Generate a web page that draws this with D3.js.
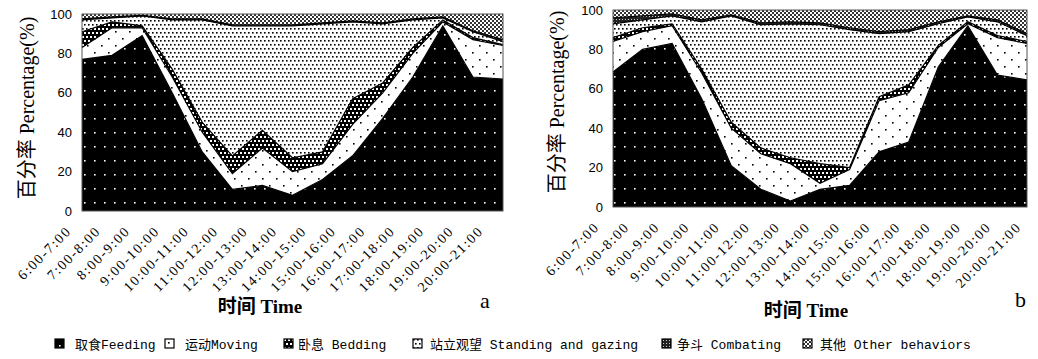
<!DOCTYPE html>
<html>
<head>
<meta charset="utf-8">
<script src="https://cdn.jsdelivr.net/npm/d3@7"></script>
<style>
  body { margin: 0; background: #fff; }
  svg { display: block; }
  .tick-y { font: 13px "Liberation Sans", Arial, sans-serif; }
  .tick-x { font: 14px "Liberation Serif", "Times New Roman", serif; letter-spacing: 1.6px; }
  .title { font-family: "Liberation Serif", "Noto Sans CJK SC", serif; }
  .legend { font: 13px "Liberation Mono", "Noto Sans CJK SC", monospace; }
</style>
</head>
<body>
<svg id="chart" width="1038" height="359"></svg>
<script>
const categories = ["6:00-7:00", "7:00-8:00", "8:00-9:00", "9:00-10:00", "10:00-11:00",
  "11:00-12:00", "12:00-13:00", "13:00-14:00", "14:00-15:00", "15:00-16:00",
  "16:00-17:00", "17:00-18:00", "18:00-19:00", "19:00-20:00", "20:00-21:00"];

const seriesKeys = ["feeding", "moving", "bedding", "standing", "combating", "other"];
const seriesNames = ["取食Feeding", "运动Moving", "卧息 Bedding", "站立观望 Standing and gazing", "争斗 Combating", "其他 Other behaviors"];
const yTicks = [0, 20, 40, 60, 80, 100];

// panel a
const feedingA   = [77, 79, 89, 60, 30, 11, 13, 8, 16, 28, 47, 68, 94, 68, 67];
const movingA    = [6, 14, 4, 8, 10, 8, 19, 12, 8, 16, 13, 12, 2, 19, 17];
const beddingA   = [8, 3, 1, 4, 5, 9, 9, 7, 6, 13, 5, 3, 1, 1, 0.5];
const standingA  = [6, 2, 5, 25, 52, 66, 53, 67, 65, 39, 30, 14, 1, 3, 1.5];
const combatingA = [0.5, 0.5, 0.3, 0.5, 0.5, 0.5, 0.5, 0.5, 0.5, 0.5, 0.5, 0.5, 0.5, 0.5, 1];
const otherA     = [2.5, 1.5, 0.7, 2.5, 2.5, 5.5, 5.5, 5.5, 4.5, 3.5, 4.5, 2.5, 1.5, 8.5, 13];

// panel b
const feedingB   = [68.5, 80, 83, 55, 21, 9, 3, 9, 11, 28, 33, 71, 92, 67, 64.5];
const movingB    = [15.5, 9, 9, 13, 19, 18, 19, 3, 8, 26, 25, 10, 1, 19, 18.5];
const beddingB   = [2, 2, 1, 2, 3, 3, 3, 10, 1, 2, 4, 1, 1, 1, 1];
const standingB  = [7, 4, 4, 24, 54, 62.5, 68, 70.5, 70, 32, 27, 11, 2.5, 7, 3];
const combatingB = [3, 2, 1, 1, 0.5, 1, 1, 1, 1, 1, 1, 1, 0.5, 1, 1];
const otherB     = [4, 3, 2, 5, 2.5, 6.5, 6, 6.5, 9, 11, 10, 6, 3, 5, 12];

const svg = d3.select("#chart");
const defs = svg.append("defs");

// fill patterns, roughly like the print hatching
function pattern(id, w, h, bg, dots) {
  const p = defs.append("pattern").attr("id", id)
    .attr("patternUnits", "userSpaceOnUse").attr("width", w).attr("height", h);
  p.append("rect").attr("width", w).attr("height", h).attr("fill", bg);
  dots.forEach(d => p.append("rect").attr("x", d[0]).attr("y", d[1])
    .attr("width", d[2]).attr("height", d[2]).attr("fill", d[3]));
}
pattern("p-feeding", 10, 14, "#000", [[4, 6, 1.6, "#fff"]]);
pattern("p-moving", 14, 14, "#fff", [[3, 3, 1.6, "#000"], [10, 10, 1.6, "#000"]]);
pattern("p-bedding", 4, 8, "#000", [[0, 0, 2, "#fff"], [2, 4, 2, "#fff"]]);
pattern("p-standing", 4, 8, "#fff", [[0, 0, 1.6, "#000"], [2, 4, 1.6, "#000"]]);
pattern("p-combating", 3, 3, "#222", [[1, 1, 1, "#ccc"]]);
pattern("p-other", 4, 4, "#fff", [[0, 0, 2, "#333"], [2, 2, 2, "#333"]]);

const fills = seriesKeys.map(k => "url(#p-" + k + ")");

function panel(cfg) {
  const rows = categories.map((c, i) => {
    const r = { cat: c };
    seriesKeys.forEach((k, j) => r[k] = cfg.values[j][i]);
    return r;
  });
  const stacked = d3.stack().keys(seriesKeys)(rows);

  const x = d3.scalePoint().domain(categories).range([cfg.left, cfg.right]).padding(0);
  const xl = d3.scalePoint().domain(categories).range(cfg.labelRange).padding(0);
  const y = d3.scaleLinear().domain([0, 100]).range([cfg.bottom, cfg.top]);

  const g = svg.append("g");
  const area = d3.area()
    .x(d => x(d.data.cat))
    .y0(d => y(d[0]))
    .y1(d => y(Math.min(d[1], 100)));
  const line = d3.line().x(d => x(d.data.cat)).y(d => y(Math.min(d[1], 100)));

  g.selectAll("path.area").data(stacked).join("path")
    .attr("class", "area")
    .attr("d", area)
    .attr("fill", (d, i) => fills[i]);
  g.selectAll("path.edge").data(stacked.slice(0, 5)).join("path")
    .attr("class", "edge")
    .attr("d", line)
    .attr("fill", "none")
    .attr("stroke", "#000")
    .attr("stroke-width", 1.2);

  // frame
  g.append("rect").attr("x", cfg.left).attr("y", cfg.top)
    .attr("width", cfg.right - cfg.left).attr("height", cfg.bottom - cfg.top)
    .attr("fill", "none").attr("stroke", "#555").attr("stroke-width", 1);

  const yAxis = d3.axisLeft(y).tickValues(yTicks).tickSize(0).tickPadding(10);
  g.append("g").attr("transform", `translate(${cfg.left},0)`).call(yAxis)
    .call(a => a.select(".domain").remove())
    .selectAll("text").attr("class", "tick-y").attr("fill", "#000");

  g.selectAll("text.tick-x").data(categories).join("text")
    .attr("class", "tick-x")
    .attr("transform", d => `translate(${xl(d)},${cfg.bottom + 21}) rotate(-45)`)
    .attr("text-anchor", "end")
    .text(d => d);

  g.append("text").attr("class", "title")
    .attr("transform", `translate(${cfg.yTitleX},${cfg.yTitleY}) rotate(-90)`)
    .attr("text-anchor", "middle").attr("font-size", 20)
    .text("百分率 Percentage(%)");
  g.append("text").attr("class", "title")
    .attr("x", cfg.xTitleX).attr("y", cfg.xTitleY)
    .attr("text-anchor", "middle").attr("font-size", 19).attr("font-weight", "bold")
    .text("时间 Time");
  g.append("text").attr("class", "title")
    .attr("x", cfg.tagX).attr("y", cfg.tagY).attr("font-size", 22)
    .text(cfg.tag);
}

panel({
  values: [feedingA, movingA, beddingA, standingA, combatingA, otherA],
  left: 82, right: 503, top: 14, bottom: 211, labelRange: [72, 484],
  yTitleX: 34, yTitleY: 108, xTitleX: 260, xTitleY: 313, tagX: 480, tagY: 308, tag: "a"
});
panel({
  values: [feedingB, movingB, beddingB, standingB, combatingB, otherB],
  left: 613, right: 1027, top: 10, bottom: 207, labelRange: [600, 1022],
  yTitleX: 564, yTitleY: 102, xTitleX: 806, xTitleY: 317, tagX: 1015, tagY: 307, tag: "b"
});

// legend
const legendX = [55, 165, 284, 413, 662, 803];
const textGap = [20, 20, 14, 17, 15, 17];
const lg = svg.append("g").attr("class", "legend");
seriesNames.forEach((name, i) => {
  const it = lg.append("g").attr("transform", `translate(${legendX[i]},339)`);
  it.append("rect").attr("width", 9).attr("height", 9)
    .attr("fill", fills[i]).attr("stroke", "#000").attr("stroke-width", 1.2);
  it.append("text").attr("x", textGap[i]).attr("y", 10).text(name);
});
</script>
</body>
</html>
